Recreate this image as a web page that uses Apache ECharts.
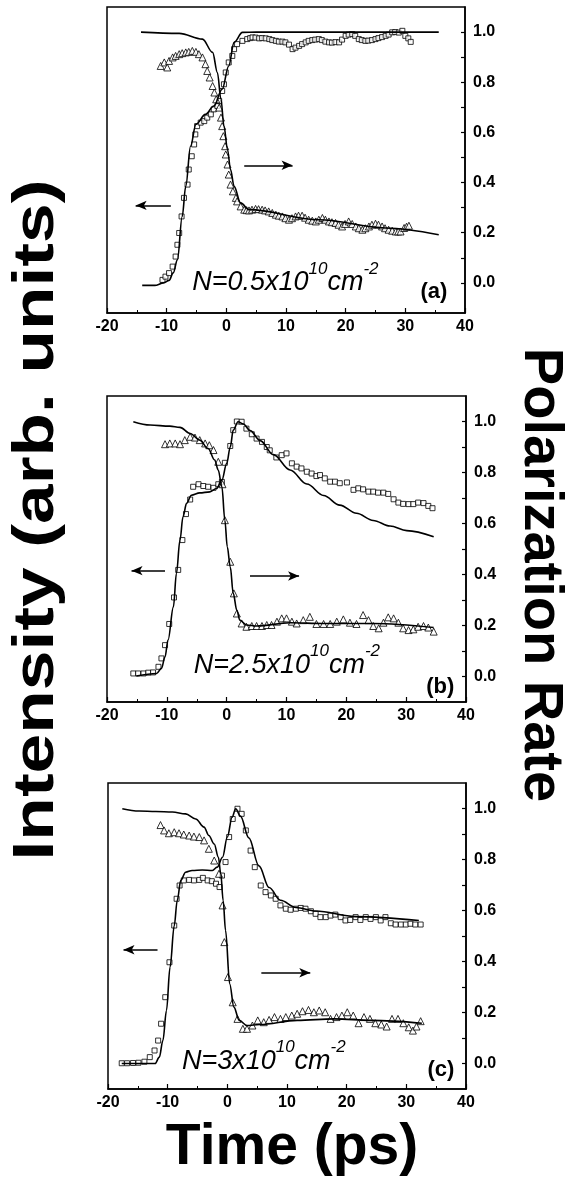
<!DOCTYPE html>
<html>
<head>
<meta charset="utf-8">
<script src="https://cdn.jsdelivr.net/npm/echarts@6.0.0/dist/echarts.min.js"></script>
<style>
html, body { margin: 0; padding: 0; background: #fff; }
#chart { width: 584px; height: 1188px; }
</style>
</head>
<body>
<div id="chart"></div>
<script>
// ---- panel (a): N=0.5x10^10 ----
const aIntensity = [[-10.7,0.012],[-10.2,0.025],[-9.6,0.039],[-9.0,0.065],[-8.5,0.105],[-8.2,0.152],[-7.9,0.199],[-7.5,0.265],[-7.1,0.339],[-6.5,0.392],[-6.3,0.452],[-5.8,0.505],[-5.4,0.552],[-5.2,0.592],[-4.9,0.625],[-4.3,0.639],[-3.7,0.645],[-3.2,0.659],[-2.6,0.672],[-2.1,0.692],[-1.5,0.705],[-1.2,0.725],[-0.7,0.765],[-0.4,0.792],[-0.1,0.839],[0.4,0.879],[1.0,0.905],[1.3,0.932],[1.8,0.952],[2.7,0.965],
  [3.5,0.972],[4.0,0.976],[4.4,0.979],[4.9,0.978],[5.5,0.975],[6.0,0.976],[6.6,0.975],[7.2,0.972],[7.7,0.968],[8.3,0.965],[8.8,0.962],[9.4,0.962],[9.9,0.959],[10.5,0.95],[11.1,0.932],[11.6,0.938],[12.2,0.945],[12.7,0.952],[13.3,0.959],[13.8,0.965],[14.4,0.968],[14.9,0.97],[15.5,0.972],[16.0,0.968],[16.6,0.962],[17.2,0.959],[17.7,0.958],[18.3,0.96],[18.9,0.959],[19.4,0.97],[20.0,0.985],[20.5,0.99],[21.1,0.992],[21.6,0.985],[22.2,0.972],[22.7,0.968],[23.3,0.965],[23.8,0.966],[24.4,0.968],[25.0,0.972],[25.5,0.976],[26.1,0.98],[26.7,0.985],[27.2,0.99],[27.8,0.999],[28.3,1.0],[28.9,0.998],[29.5,1.005],[30.0,0.985],[30.5,0.975],[30.9,0.961]];
const aPolar = [[-11.0,0.865],[-10.4,0.879],[-9.9,0.859],[-9.6,0.885],[-9.0,0.899],[-8.5,0.905],[-7.9,0.912],[-7.4,0.916],[-6.8,0.919],[-6.3,0.921],[-5.7,0.925],[-5.1,0.921],[-4.6,0.912],[-4.0,0.899],[-3.5,0.872],[-3.2,0.845],[-2.8,0.819],[-2.3,0.785],[-2.0,0.759],[-1.7,0.732],[-1.2,0.699],[-0.9,0.659],[-0.7,0.625],[-0.5,0.585],[-0.2,0.545],[-0.1,0.512],[0.2,0.472],[0.4,0.432],[0.7,0.392],[1.1,0.365],[1.6,0.339],[1.8,0.325],[2.4,0.305],
  [3.0,0.292],[3.4,0.29],[3.8,0.289],[4.3,0.292],[4.9,0.295],[5.4,0.294],[6.0,0.292],[6.5,0.289],[7.1,0.285],[7.7,0.279],[8.3,0.272],[8.8,0.268],[9.4,0.265],[9.9,0.258],[10.5,0.252],[11.0,0.258],[11.6,0.265],[12.1,0.268],[12.7,0.268],[13.2,0.26],[13.8,0.252],[14.4,0.248],[15.0,0.245],[15.5,0.252],[16.1,0.259],[16.6,0.252],[17.2,0.245],[17.7,0.242],[18.3,0.239],[18.8,0.232],[19.4,0.225],[19.9,0.235],[20.5,0.245],[21.1,0.235],[21.7,0.225],[22.2,0.218],[22.8,0.212],[23.3,0.218],[23.9,0.225],[24.4,0.232],[25.0,0.236],[25.5,0.232],[26.1,0.225],[26.6,0.218],[27.2,0.212],[27.8,0.208],[28.4,0.205],[28.8,0.205],[29.2,0.205],[29.8,0.219],[30.2,0.224],[30.6,0.228]];
const aIntensityFit = [[-14.1,-0.01],[-12.0,-0.01],[-10.5,0],[-9.6,0.01],[-8.9,0.04],[-8.2,0.092],[-7.4,0.265],[-6.8,0.385],[-6.0,0.545],[-5.1,0.632],[-3.5,0.672],[-2.1,0.705],[-0.7,0.772],[0.4,0.865],[1.3,0.959],[2.7,0.999],[5.0,1.0],[35.6,1.0]];
const aPolarFit = [[-14.3,1.0],[-7.9,0.995],[-4.0,0.972],[-2.3,0.919],[-1.5,0.839],[-0.9,0.732],[-0.4,0.625],[0.2,0.532],[0.7,0.452],[1.3,0.385],[2.4,0.319],[3.8,0.292],[15.5,0.252],[26.7,0.219],[35.6,0.192]];

// ---- panel (b): N=2.5x10^10 ----
const bIntensity = [[-15.6,0.012],[-14.8,0.012],[-13.9,0.012],[-13.1,0.015],[-12.3,0.016],[-11.4,0.038],[-10.9,0.071],[-10.3,0.123],[-9.6,0.206],[-8.8,0.31],[-8.1,0.418],[-7.4,0.535],[-6.8,0.637],[-6.1,0.694],[-5.6,0.744],[-4.7,0.754],[-3.9,0.747],[-3.1,0.744],[-2.2,0.74],[-1.4,0.754],[-0.8,0.763],[-0.3,0.838],[0.6,0.904],[1.1,0.966],[1.7,1.0],[2.5,0.999],[3.3,0.972],[4.2,0.95],[5.0,0.933],[5.9,0.92],[6.7,0.9],[7.2,0.887],[8.3,0.859],[9.2,0.868],[10.0,0.875],[10.9,0.836],[11.7,0.823],[12.5,0.816],[13.4,0.803],[14.2,0.796],[15.0,0.786],[15.6,0.79],[16.4,0.777],[17.3,0.764],[18.1,0.764],[18.9,0.758],[20.1,0.761],[21.2,0.732],[22.0,0.738],[22.8,0.734],[23.7,0.725],[24.5,0.725],[25.3,0.721],[26.2,0.721],[27.0,0.716],[27.9,0.695],[28.7,0.682],[29.5,0.677],[30.4,0.676],[31.2,0.676],[32.0,0.682],[32.9,0.68],[33.7,0.669],[34.4,0.66]];
const bPolar = [[-10.3,0.911],[-9.5,0.914],[-8.6,0.914],[-7.8,0.911],[-7.0,0.927],[-6.1,0.94],[-5.3,0.937],[-4.5,0.927],[-3.6,0.914],[-2.9,0.907],[-2.2,0.888],[-1.4,0.842],[-0.7,0.754],[-0.3,0.613],[0.6,0.45],[1.2,0.326],[1.7,0.247],[2.5,0.208],[3.3,0.195],[4.2,0.198],[5.0,0.198],[5.9,0.198],[6.7,0.202],[7.5,0.202],[8.4,0.215],[9.2,0.228],[10.0,0.228],[10.9,0.215],[11.7,0.208],[12.8,0.221],[13.9,0.234],[15.0,0.206],[16.2,0.206],[17.3,0.206],[18.4,0.215],[19.5,0.224],[20.6,0.211],[21.7,0.206],[22.8,0.241],[23.7,0.221],[24.5,0.198],[25.4,0.189],[26.2,0.211],[27.0,0.232],[27.9,0.228],[28.7,0.211],[29.5,0.189],[30.4,0.182],[31.2,0.185],[32.0,0.195],[32.9,0.198],[33.7,0.192],[34.6,0.176]];
const bIntensityFit = [[-15.1,0.002],[-11.7,0.012],[-10.9,0.032],[-10.3,0.077],[-9.8,0.143],[-8.9,0.273],[-8.4,0.404],[-7.8,0.535],[-7.3,0.626],[-6.7,0.679],[-5.9,0.711],[-4.5,0.72],[-2.8,0.724],[-1.7,0.737],[-0.8,0.77],[0.0,0.835],[0.6,0.9],[1.1,0.966],[1.9,0.999],[2.8,0.99],[3.9,0.965],[5.6,0.925],[7.8,0.87],[10.6,0.81],[13.4,0.755],[16.2,0.71],[18.9,0.672],[21.7,0.64],[24.5,0.612],[27.3,0.59],[30.1,0.572],[34.6,0.548]];
const bPolarFit = [[-15.6,0.999],[-12.8,0.986],[-9.5,0.982],[-7.8,0.977],[-6.1,0.953],[-4.5,0.927],[-3.1,0.894],[-2.0,0.849],[-1.4,0.809],[-0.8,0.744],[-0.3,0.613],[0.1,0.509],[0.6,0.43],[1.1,0.326],[1.7,0.26],[2.2,0.221],[3.3,0.202],[5.0,0.198],[10.6,0.211],[16.2,0.208],[24.5,0.208],[34.6,0.192]];

// ---- panel (c): N=3x10^10 ----
const cIntensity = [[-17.7,0.001],[-16.8,0.001],[-15.8,0.002],[-14.9,0.003],[-13.9,0.007],[-13.0,0.025],[-12.2,0.051],[-11.6,0.09],[-11.1,0.156],[-10.4,0.26],[-9.7,0.397],[-8.9,0.541],[-8.5,0.646],[-8.0,0.698],[-7.3,0.718],[-6.4,0.72],[-5.6,0.718],[-4.7,0.72],[-4.1,0.728],[-3.3,0.718],[-2.6,0.715],[-1.9,0.705],[-1.3,0.692],[-0.9,0.737],[-0.3,0.79],[0.3,0.888],[0.9,0.959],[1.7,0.999],[2.4,0.979],[3.1,0.914],[3.9,0.835],[4.6,0.77],[5.6,0.698],[6.4,0.672],[7.3,0.659],[8.1,0.646],[8.9,0.62],[9.8,0.607],[10.6,0.603],[11.5,0.607],[12.3,0.61],[13.1,0.607],[14.0,0.597],[14.8,0.587],[15.6,0.574],[16.5,0.574],[17.3,0.58],[18.1,0.584],[19.0,0.574],[19.8,0.561],[20.6,0.563],[21.5,0.574],[22.3,0.563],[23.2,0.574],[24.0,0.567],[24.9,0.574],[25.7,0.561],[26.5,0.574],[27.4,0.55],[28.2,0.545],[29.1,0.545],[29.9,0.545],[30.7,0.548],[31.5,0.545],[32.4,0.545]];
const cPolar = [[-11.2,0.935],[-10.6,0.914],[-9.8,0.903],[-8.9,0.907],[-8.1,0.903],[-7.3,0.898],[-6.4,0.894],[-5.6,0.89],[-4.7,0.888],[-3.9,0.875],[-3.1,0.842],[-2.2,0.796],[-1.4,0.744],[-0.8,0.62],[-0.5,0.476],[0.1,0.339],[0.9,0.24],[1.7,0.175],[2.6,0.136],[3.3,0.136],[4.2,0.149],[5.1,0.169],[6.1,0.162],[7.0,0.171],[7.9,0.182],[8.9,0.175],[9.8,0.182],[10.8,0.188],[11.7,0.195],[12.6,0.205],[13.6,0.21],[14.5,0.201],[15.4,0.208],[16.4,0.201],[17.3,0.175],[18.3,0.182],[19.2,0.188],[20.1,0.201],[21.1,0.188],[22.0,0.158],[22.9,0.182],[23.9,0.175],[24.8,0.158],[25.8,0.153],[26.7,0.145],[27.6,0.175],[28.6,0.175],[29.5,0.158],[30.4,0.142],[31.1,0.129],[31.7,0.145],[32.4,0.166]];
const cIntensityFit = [[-17.7,0],[-12.1,0],[-11.4,0.025],[-10.8,0.09],[-10.2,0.208],[-9.6,0.378],[-8.9,0.54],[-8.4,0.639],[-7.8,0.718],[-7.0,0.75],[-5.9,0.757],[-4.2,0.759],[-2.5,0.757],[-1.7,0.77],[-0.8,0.809],[0.0,0.888],[0.8,0.966],[1.4,0.999],[2.2,0.97],[3.6,0.885],[5.3,0.775],[7.0,0.69],[8.9,0.64],[11.5,0.612],[14.8,0.598],[21.5,0.576],[32.1,0.561]];
const cPolarFit = [[-17.6,0.999],[-14.8,0.99],[-12.0,0.988],[-9.2,0.986],[-7.0,0.979],[-5.3,0.959],[-3.9,0.927],[-3.1,0.894],[-2.2,0.861],[-1.5,0.809],[-1.1,0.744],[-0.7,0.639],[-0.3,0.522],[0.4,0.312],[1.1,0.221],[2.0,0.169],[3.3,0.149],[5.4,0.153],[11.7,0.169],[17.9,0.175],[24.2,0.169],[32.6,0.158]];

// axis ticks / labels
const yLabelValues = [0, 0.2, 0.4, 0.6, 0.8, 1.0];
const yTickValues = [0, 0.1, 0.2, 0.3, 0.4, 0.5, 0.6, 0.7, 0.8, 0.9, 1.0];
const yMins = [-0.12, -0.1, -0.1];

// annotations: [tail, head] of arrows, density text, panel letter
const arrows = [
  [[[-9.3, 0.309], [-15.2, 0.309]], [[3.0, 0.469], [11.1, 0.469]]],
  [[[-10.3, 0.415], [-15.9, 0.415]], [[3.9, 0.394], [12.1, 0.394]]],
  [[[-11.7, 0.446], [-17.4, 0.446]], [[5.7, 0.356], [13.9, 0.356]]]
];
const densityText = ['N=0.5x10', 'N=2.5x10', 'N=3x10'];
const densityAt = [[-5.8, 0.018], [-5.6, 0.06], [-7.7, 0.026]];
const panelLetter = ['(a)', '(b)', '(c)'];
const letterAt = [[34.8, -0.038], [35.7, -0.04], [35.8, -0.027]];

const panels = [
  { intensity: aIntensity, polar: aPolar, iFit: aIntensityFit, pFit: aPolarFit },
  { intensity: bIntensity, polar: bPolar, iFit: bIntensityFit, pFit: bPolarFit },
  { intensity: cIntensity, polar: cPolar, iFit: cIntensityFit, pFit: cPolarFit }
];

const FONT = '"Liberation Sans", Arial, sans-serif';
const chart = echarts.init(document.getElementById('chart'));

const grids = [
  { left: 107, top: 7, width: 358, height: 306 },
  { left: 107, top: 396, width: 359, height: 306 },
  { left: 108, top: 783, width: 358, height: 306 }
].map((g) => Object.assign(g, { show: true, borderColor: '#000', borderWidth: 1.5, backgroundColor: 'transparent' }));

const xAxes = grids.map((g, i) => ({
  gridIndex: i,
  type: 'value',
  min: -20,
  max: 40,
  interval: 10,
  axisLine: { show: true, onZero: false, lineStyle: { color: '#000', width: 1.5 } },
  axisTick: { show: true, inside: true, length: 5, lineStyle: { color: '#000', width: 1.2 } },
  minorTick: { show: true, splitNumber: 2, length: 3, lineStyle: { color: '#000', width: 1 } },
  splitLine: { show: false },
  axisLabel: { color: '#000', fontWeight: 'bold', fontSize: 16, fontFamily: FONT, margin: 6 }
}));

const yAxes = grids.map((g, i) => ({
  gridIndex: i,
  type: 'value',
  position: 'right',
  min: yMins[i],
  max: 1.1,
  axisLine: { show: true, onZero: false, lineStyle: { color: '#000', width: 1.5 } },
  axisTick: { show: true, inside: true, length: 4, customValues: yTickValues, lineStyle: { color: '#000', width: 1.2 } },
  splitLine: { show: false },
  axisLabel: {
    color: '#000', fontWeight: 'bold', fontSize: 16, fontFamily: FONT, margin: 8,
    customValues: yLabelValues,
    formatter: (v) => v.toFixed(1)
  }
}));

const series = [];
panels.forEach((p, i) => {
  const fitStyle = { color: '#000', width: 1.6 };
  series.push({
    type: 'line', xAxisIndex: i, yAxisIndex: i, data: p.iFit,
    showSymbol: false, smooth: 0.35, smoothMonotone: 'x', lineStyle: fitStyle, silent: true,
    markLine: {
      silent: true, symbol: ['none', 'arrow'], symbolSize: [7, 11],
      lineStyle: { color: '#000', width: 1.6, type: 'solid' },
      label: { show: false },
      data: arrows[i].map((a) => [{ coord: a[0] }, { coord: a[1] }])
    }
  });
  series.push({
    type: 'line', xAxisIndex: i, yAxisIndex: i, data: p.pFit,
    showSymbol: false, smooth: 0.35, smoothMonotone: 'x', lineStyle: fitStyle, silent: true
  });
  series.push({
    type: 'scatter', xAxisIndex: i, yAxisIndex: i, data: p.intensity,
    symbol: 'rect', symbolSize: 5, silent: true,
    itemStyle: { color: '#fff', borderColor: '#000', borderWidth: 1 }
  });
  series.push({
    type: 'scatter', xAxisIndex: i, yAxisIndex: i, data: p.polar,
    symbol: 'triangle', symbolSize: 7, silent: true,
    itemStyle: { color: '#fff', borderColor: '#000', borderWidth: 1 }
  });
  series.push({
    type: 'scatter', xAxisIndex: i, yAxisIndex: i, silent: true,
    data: [densityAt[i]], symbolSize: 1, itemStyle: { color: '#fff', opacity: 1 },
    label: {
      show: true, position: 'right', distance: 0, color: '#000', opacity: 1,
      formatter: '{m|' + densityText[i] + '}{s|10}{m|cm}{s|-2}',
      rich: {
        m: { fontSize: 27, fontStyle: 'italic', fontFamily: FONT, color: '#000', lineHeight: 36, verticalAlign: 'bottom' },
        s: { fontSize: 17, fontStyle: 'italic', fontFamily: FONT, color: '#000', lineHeight: 36, verticalAlign: 'top' }
      }
    }
  });
  series.push({
    type: 'scatter', xAxisIndex: i, yAxisIndex: i, silent: true,
    data: [letterAt[i]], symbolSize: 1, itemStyle: { color: '#fff', opacity: 1 },
    label: {
      show: true, position: 'inside', formatter: panelLetter[i], opacity: 1,
      fontSize: 22, fontWeight: 'bold', fontFamily: FONT, color: '#000'
    }
  });
});

const option = {
  animation: false,
  backgroundColor: '#fff',
  grid: grids,
  xAxis: xAxes,
  yAxis: yAxes,
  series: series,
  graphic: [
    {
      type: 'text', x: 37, y: 520, rotation: Math.PI / 2, scaleX: 1.25,
      style: { text: 'Intensity (arb. units)', fontSize: 57, fontWeight: 'bold', fontFamily: FONT, fill: '#000', align: 'center', verticalAlign: 'middle' }
    },
    {
      type: 'text', x: 540, y: 575, rotation: -Math.PI / 2,
      style: { text: 'Polarization Rate', fontSize: 56, fontWeight: 'bold', fontFamily: FONT, fill: '#000', align: 'center', verticalAlign: 'middle' }
    },
    {
      type: 'text', x: 292, y: 1148,
      style: { text: 'Time (ps)', fontSize: 57, fontWeight: 'bold', fontFamily: FONT, fill: '#000', align: 'center', verticalAlign: 'middle' }
    }
  ]
};
chart.setOption(option);
</script>
</body>
</html>
